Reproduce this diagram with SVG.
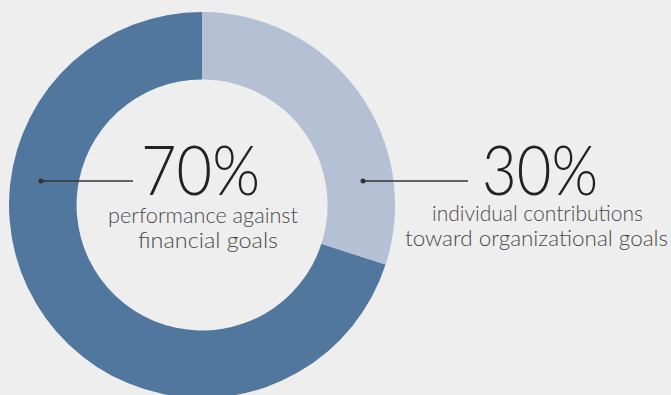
<svg xmlns="http://www.w3.org/2000/svg" width="671" height="395" viewBox="0 0 671 395">
<style>
.big{font-family:Lato,"Open Sans","Liberation Sans",sans-serif;font-weight:300;font-size:68px;fill:#222}
.lbl{font-family:Lato,"Open Sans","Liberation Sans",sans-serif;font-weight:300;font-size:21px;fill:#4a4a4a}
.lead{stroke:#333;stroke-width:1.3;fill:none}
.dot{fill:#333}
</style>
<rect width="671" height="395" fill="#eeeeee"/>
<g id="slice-70">
<path d="M202 12 A193 193 0 1 0 385.6 264.6 L321.4 243.8 A125.5 125.5 0 1 1 202 79.5 Z" fill="#52779f"/>
</g>
<g id="slice-30">
<path d="M202 12 A193 193 0 0 1 385.6 264.6 L321.4 243.8 A125.5 125.5 0 0 0 202 79.5 Z" fill="#b4c0d4"/>
</g>
<g id="connectors">
<line class="lead" x1="41" y1="181" x2="133" y2="181"/>
<circle class="dot" cx="41" cy="181" r="2.5"/>
<line class="lead" x1="363" y1="181" x2="468" y2="181"/>
<circle class="dot" cx="363" cy="181" r="2.5"/>
</g>
<g id="label-70">
<text class="big" x="141" y="195" textLength="119" lengthAdjust="spacingAndGlyphs">70%</text>
<text class="lbl" x="108" y="223" textLength="190" lengthAdjust="spacingAndGlyphs">performance against</text>
<text class="lbl" x="138" y="248" textLength="140" lengthAdjust="spacingAndGlyphs">financial goals</text>
</g>
<g id="label-30">
<text class="big" x="482" y="195" textLength="116" lengthAdjust="spacingAndGlyphs">30%</text>
<text class="lbl" x="432" y="221" textLength="211" lengthAdjust="spacingAndGlyphs">individual contributions</text>
<text class="lbl" x="405" y="246" textLength="263" lengthAdjust="spacingAndGlyphs">toward organizational goals</text>
</g>
</svg>
